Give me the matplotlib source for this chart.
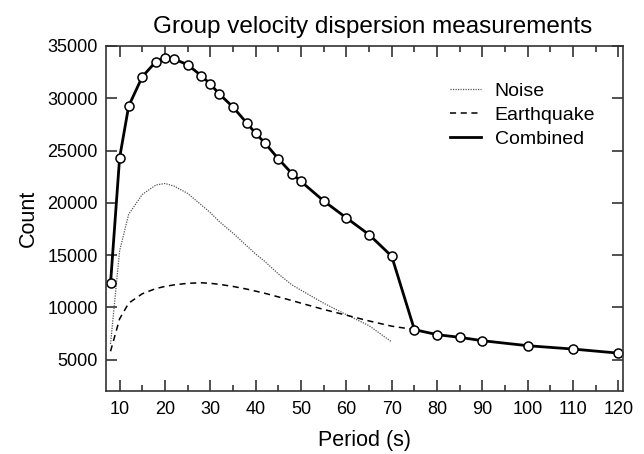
import matplotlib
matplotlib.use("Agg")
import matplotlib.pyplot as plt
from matplotlib.ticker import MultipleLocator

plt.rcParams['font.family'] = ['Liberation Sans', 'DejaVu Sans']

period = [8, 10, 12, 15, 18, 20, 22, 25, 28, 30, 32, 35, 38, 40, 42, 45, 48, 50,
          55, 60, 65, 70, 75, 80, 85, 90, 100, 110, 120]
combined = [12300, 24300, 29250, 32060, 33500, 33880, 33750, 33210, 32160, 31360,
            30400, 29160, 27650, 26640, 25740, 24210, 22800, 22040, 20180, 18560,
            16960, 14890, 7870, 7390, 7130, 6810, 6330, 6010, 5620]

noise_period = [8, 10, 12, 15, 18, 20, 22, 25, 28, 30, 32, 35, 38, 40, 42, 45, 48,
                50, 55, 60, 65, 70]
noise = [6500, 15400, 18900, 20800, 21700, 21850, 21600, 20900, 19800, 19060, 18200,
         17100, 15900, 15100, 14400, 13200, 12150, 11640, 10400, 9300, 8250, 6690]

eq_period = [8, 10, 12, 15, 18, 20, 22, 25, 28, 30, 32, 35, 38, 40, 42, 45, 48, 50,
             55, 60, 65, 70, 75]
earthquake = [5800, 8900, 10400, 11300, 11800, 12000, 12150, 12300, 12350, 12300,
              12200, 12000, 11750, 11550, 11350, 11000, 10650, 10400, 9800, 9250,
              8700, 8200, 7870]

fig = plt.figure(figsize=(6.44, 4.54), dpi=100)
ax = fig.add_axes([0.1646, 0.1388, 0.8028, 0.7599])

ax.plot(noise_period, noise, linestyle=(0, (1, 1)), color='#555555', lw=0.9, label='Noise')
ax.plot(eq_period, earthquake, linestyle=(0, (4, 3)), color='black', lw=1.1, label='Earthquake')
ax.plot(period, combined, '-', color='black', lw=2.0, label='Combined')
ax.plot(period, combined, 'o', color='black', mfc='white', mec='black', ms=6.5, mew=1.1)

ax.set_xlim(7, 121)
ax.set_ylim(2000, 35000)
ax.xaxis.set_major_locator(MultipleLocator(10))
ax.xaxis.set_minor_locator(MultipleLocator(5))
ax.yaxis.set_major_locator(MultipleLocator(5000))
ax.set_xticks(range(10, 121, 10))
ax.set_yticks(range(5000, 35001, 5000))

ax.tick_params(axis='both', which='major', direction='in', length=8, width=1.1,
               labelsize=13, top=True, right=True, color='#222222')
ax.tick_params(axis='x', which='minor', direction='in', length=4, width=1.1,
               top=True, color='#222222')
ax.tick_params(axis='x', pad=7)
ax.tick_params(axis='y', pad=6)
for s in ax.spines.values():
    s.set_linewidth(1.2)
    s.set_color('#333333')

ax.set_title('Group velocity dispersion measurements', fontsize=17.5, pad=9, x=0.515)
ax.set_xlabel('Period (s)', fontsize=15.5, labelpad=9)
ax.set_ylabel('Count', fontsize=15.5, labelpad=6)

leg = ax.legend(loc='upper right', frameon=False, fontsize=14, handlelength=1.6,
                handletextpad=0.7, labelspacing=0.33, bbox_to_anchor=(0.98, 0.945))

fig.savefig('out.png', dpi=100)
